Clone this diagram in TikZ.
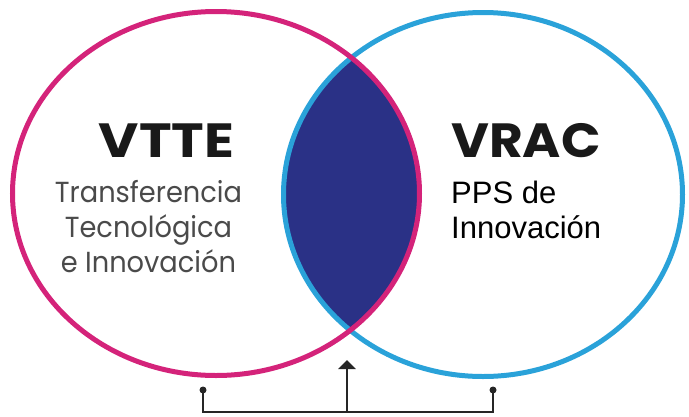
\documentclass[tikz,border=0pt]{standalone}
\usepackage{fontspec}
\newfontfamily\geofont{Poppins}
\newfontfamily\arialfont{Liberation Sans}
\usepackage{tikz}
\usetikzlibrary{arrows.meta, positioning}
\definecolor{vttepink}{HTML}{D4237A}
\definecolor{vracblue}{HTML}{2AA2D9}
\definecolor{lensnavy}{HTML}{2A3186}
\definecolor{greytext}{HTML}{4A4A4A}

\begin{document}
\begin{tikzpicture}[
x=1pt, y=-1pt,
ring/.style={line width=5pt},
title/.style={font=\geofont\bfseries\fontsize{48}{48}\selectfont, text=black!90, inner sep=0pt, xscale=1.15},
subtext/.style={font=\geofont\fontsize{29}{35}\selectfont, text=greytext, align=center, inner sep=0pt, xscale=0.94},
righttext/.style={font=\arialfont\fontsize{31}{35}\selectfont, text=black, align=left, inner sep=0pt},
dot/.style={circle, fill=black!85, inner sep=0pt, minimum size=7pt},
link/.style={line width=2.2pt, draw=black!85}
]
\useasboundingbox (0,0) rectangle (689,416);

% intersection
\begin{scope}
\clip (216,193.5) ellipse [x radius=203.5, y radius=182];
\fill[lensnavy] (483,194.5) ellipse [x radius=199.5, y radius=182];
\end{scope}

% the two sets
\draw[ring, vracblue] (483,194.5) ellipse [x radius=199.5, y radius=182];
\draw[ring, vttepink] (216,193.5) ellipse [x radius=203.5, y radius=182];

% labels (base = baseline of the last line)
\node[title, anchor=base] (vtte) at (166.5,157) {VTTE};
\node[subtext, anchor=base] (vttesub) at (148.5,272) {Transferencia\\Tecnológica\\e Innovación};
\node[title, xscale=0.94, anchor=base west] (vrac) at (451,157) {VRAC};
\node[righttext, anchor=base west] (vracsub) at (451,238) {PPS de\\Innovación};

% bracket and arrow
\node[dot] (dotL) at (203,390) {};
\node[dot] (dotR) at (493,390) {};
\coordinate (joint) at (347,412);
\coordinate (tip) at (347,360);
\draw[link] (dotL.center) |- (joint) -| (dotR.center);
\draw[link, -{Triangle[length=9pt, width=17pt]}] (joint) -- (tip);

\end{tikzpicture}
\end{document}
